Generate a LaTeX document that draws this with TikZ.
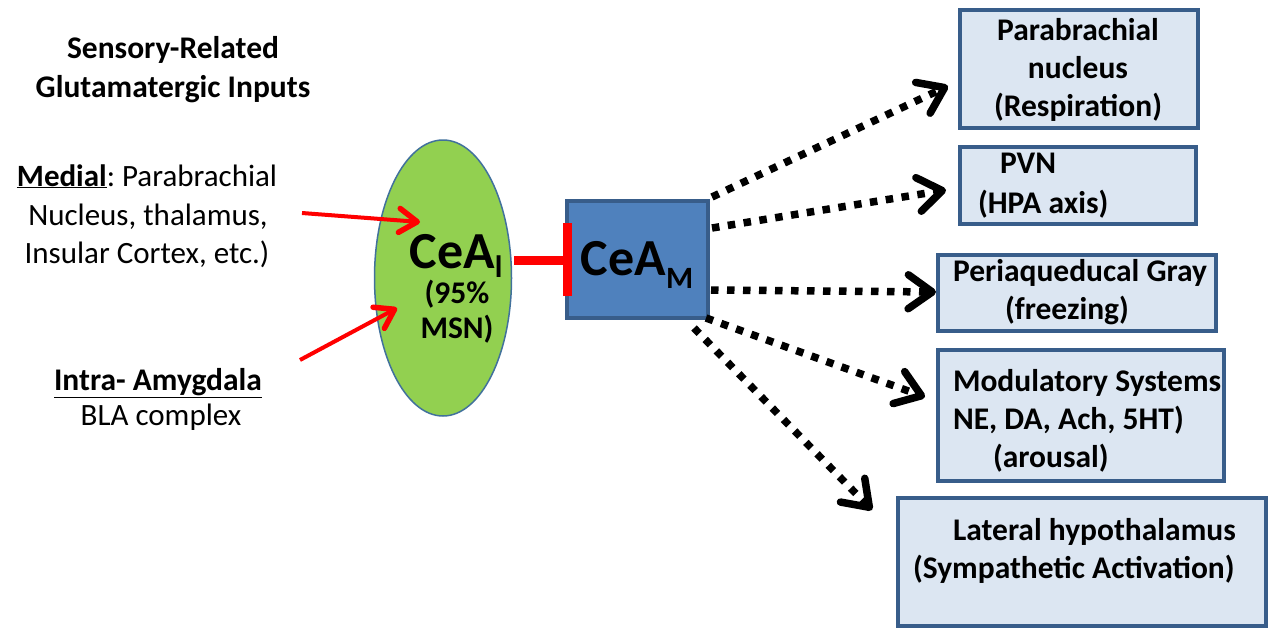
\documentclass[tikz,border=0pt]{standalone}
\usepackage{fontspec}
\setmainfont{Carlito}
\usetikzlibrary{arrows.meta,shapes.geometric}
\definecolor{cgreen}{HTML}{92D050}
\definecolor{cgreenedge}{HTML}{41719C}
\definecolor{cblue}{HTML}{4F81BD}
\definecolor{cblueedge}{HTML}{385D8A}
\definecolor{clight}{HTML}{DCE6F2}
\definecolor{cred}{HTML}{FF0000}
\begin{document}
\begin{tikzpicture}[x=1pt,y=-1pt,
  every node/.style={inner sep=0pt, outer sep=0pt},
  txt/.style={font=\fontsize{31}{38}\selectfont},
  btxt/.style={font=\fontsize{31.5}{38}\selectfont\bfseries},
  target/.style={draw=cblueedge, line width=3.5pt, fill=clight, rectangle},
  dotarrow/.style={line width=7.5pt, dash pattern=on 7.5pt off 8.5pt,
     -{Straight Barb[length=24pt,width=34pt,line width=7.5pt,round]}},
  redarrow/.style={draw=cred, line width=4pt,
     -{Straight Barb[length=18pt,width=24pt,line width=5.5pt,round]}}]
\useasboundingbox (0,0) rectangle (1270,630);
\fill[white] (0,0) rectangle (1270,630);

% left texts
\node[btxt, anchor=base] (t1) at (173,58) {Sensory-Related};
\node[btxt, anchor=base] (t2) at (173,97) {Glutamatergic Inputs};
\node[txt, anchor=base] (m1) at (147,186) {\underline{\textbf{Medial}}:~Parabrachial};
\node[txt, anchor=base] (m2) at (148,225) {Nucleus, thalamus,};
\node[txt, anchor=base] (m3) at (147,263) {Insular Cortex, etc.)};
\node[btxt, anchor=base] (i1) at (158,390) {\underline{Intra- Amygdala}};
\node[txt, anchor=base] (i2) at (161,425) {BLA complex};

% CeA lateral ellipse
\node[ellipse, draw=cgreenedge, line width=1.5pt, fill=cgreen,
      minimum width=137pt, minimum height=276pt] (cel) at (443,278) {};
\node[anchor=base, font=\fontsize{52}{56}\selectfont\bfseries] (celt) at (456,268)
  {CeA\raisebox{-9pt}{\fontsize{31}{31}\selectfont l}};
\node[btxt, anchor=base] (cel2) at (457,303) {(95\%};
\node[btxt, anchor=base] (cel3) at (457,338) {MSN)};

% CeA medial box
\node[rectangle, draw=cblueedge, line width=4pt, fill=cblue,
      minimum width=141pt, minimum height=117pt] (cem) at (637.5,259.5) {};
\node[anchor=base, font=\fontsize{52}{56}\selectfont\bfseries] (cemt) at (637,275)
  {CeA\raisebox{-13pt}{\fontsize{31}{31}\selectfont M}};

% target boxes
\node[target, minimum width=238pt, minimum height=118pt] (b1) at (1079,69) {};
\node[target, minimum width=236pt, minimum height=77pt] (b2) at (1078,185.5) {};
\node[target, minimum width=278pt, minimum height=76pt] (b3) at (1077,293) {};
\node[target, minimum width=286pt, minimum height=131pt] (b4) at (1081,415.5) {};
\node[target, minimum width=368pt, minimum height=128pt] (b5) at (1082,562) {};

\node[btxt, anchor=base] (b1a) at (1078,40) {Parabrachial};
\node[btxt, anchor=base] (b1b) at (1078,78) {nucleus};
\node[btxt, anchor=base] (b1c) at (1078,116) {(Respiration)};
\node[btxt, anchor=base west] (b2a) at (1000,173) {PVN};
\node[btxt, anchor=base west] (b2b) at (978,213) {(HPA axis)};
\node[btxt, anchor=base west] (b3a) at (953,281) {Periaqueducal Gray};
\node[btxt, anchor=base west] (b3b) at (1005,319) {(freezing)};
\node[btxt, anchor=base west] (b4a) at (953,391) {Modulatory Systems};
\node[btxt, anchor=base west] (b4b) at (953,429) {NE, DA, Ach, 5HT)};
\node[btxt, anchor=base west] (b4c) at (993,467) {(arousal)};
\node[btxt, anchor=base west] (b5a) at (953,540) {Lateral hypothalamus};
\node[btxt, anchor=base west] (b5b) at (913,578) {(Sympathetic Activation)};

% red excitatory arrows
\coordinate (r1s) at (302,213);
\coordinate (r1e) at (420,222);
\coordinate (r2s) at (300,360);
\coordinate (r2e) at (397,308);
\draw[redarrow] (r1s) -- (r1e);
\draw[redarrow] (r2s) -- (r2e);

% inhibitory connection
\coordinate (inhs) at (514,260);
\coordinate (inhe) at (567,260);
\draw[cred, line width=9pt] (inhs) -- (inhe);
\draw[cred, line width=9pt] ([yshift=-36pt]inhe) -- ([yshift=37pt]inhe);

% dotted projections
\coordinate (s1) at (712,197);
\coordinate (e1) at (948,86);
\coordinate (s2) at (712,228);
\coordinate (e2) at (946,190);
\coordinate (s3) at (711,290);
\coordinate (e3) at (936,292);
\coordinate (s4) at (706,318);
\coordinate (e4) at (925,397);
\coordinate (s5) at (694,328);
\coordinate (e5) at (872,510);
\draw[dotarrow] (s1) -- (e1);
\draw[dotarrow] (s2) -- (e2);
\draw[dotarrow] (s3) -- (e3);
\draw[dotarrow] (s4) -- (e4);
\draw[dotarrow] (s5) -- (e5);
\end{tikzpicture}
\end{document}
